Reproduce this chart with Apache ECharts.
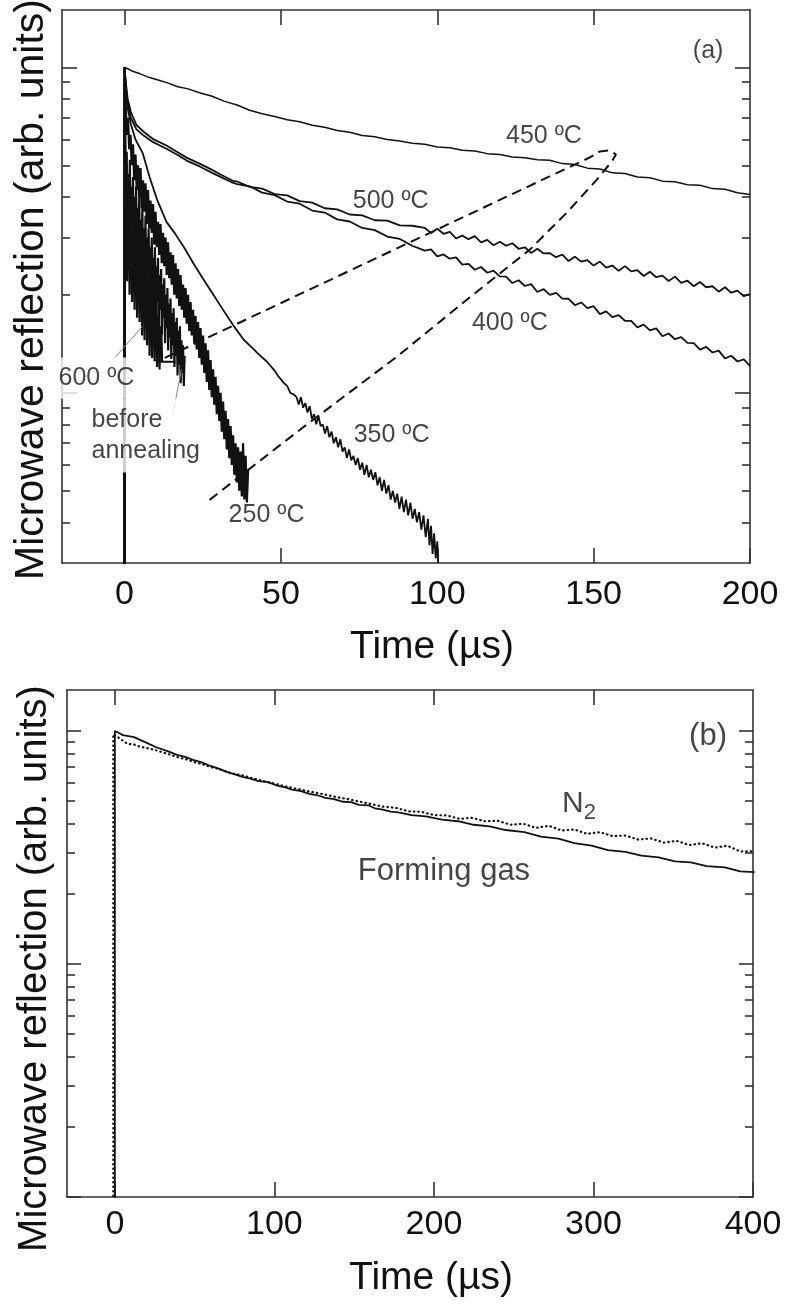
<!DOCTYPE html>
<html>
<head>
<meta charset="utf-8">
<script src="https://cdn.jsdelivr.net/npm/echarts@6/dist/echarts.min.js"></script>
<style>
  html, body { margin: 0; padding: 0; background: #fff; }
  #chart { width: 787px; height: 1309px; }
</style>
</head>
<body>
<div id="chart"></div>
<script>
// ---------- panel (a): decay curves after annealing at each temperature ----------
const t450 = [[0,0.01],[0,1.0],[1,0.99],[2.6,0.972],[5,0.955],[8,0.93],[11,0.912],[14,0.894],[17,0.872],[20,0.86],[24,0.835],[28,0.815],[32,0.786],[36,0.766],[40,0.738],[44,0.72],[48,0.706],[52,0.69],[56,0.68],[60,0.664],[64,0.654],[68,0.64],[72,0.632],[76,0.617],[80,0.612],[84,0.6],[88,0.594],[92,0.584],[96,0.58],[100,0.569],[104,0.566],[108,0.556],[112,0.553],[116,0.543],[120,0.54],[124,0.53],[128,0.527],[132,0.52],[136,0.518],[140,0.506],[144,0.503],[148,0.49],[152,0.487],[156,0.474],[160,0.472],[164,0.46],[168,0.458],[172,0.447],[176,0.445],[180,0.436],[184,0.434],[188,0.424],[192,0.422],[196,0.412],[200,0.407]];

const t500 = [[0,0.01],[0,1.0],[0.4,0.9],[1,0.8],[2,0.73],[3.8,0.665],[6,0.635],[9,0.603],[13.4,0.575],[17,0.548],[20,0.527],[24,0.506],[28,0.484],[31,0.467],[34.6,0.448],[36,0.446],[40,0.429],[44,0.424],[48,0.408],[52,0.404],[56,0.388],[60,0.384],[64,0.369],[68,0.366],[72,0.353],[76,0.351],[80,0.339],[84,0.338],[88,0.327],[92,0.326],[96,0.321],[98,0.31],[100,0.319],[102,0.308],[104,0.312],[106,0.298],[108,0.304],[110,0.2965],[112,0.303],[114,0.29],[116,0.295],[118,0.284],[120,0.291],[122,0.283],[124,0.288],[126,0.277],[128,0.28],[130,0.269],[132,0.277],[134,0.268],[136,0.2685],[138,0.261],[140,0.266],[142,0.254],[144,0.262],[146,0.253],[148,0.2555],[150,0.246],[152,0.253],[154,0.2425],[156,0.246],[158,0.237],[160,0.245],[162,0.236],[164,0.238],[166,0.2285],[168,0.2355],[170,0.2265],[172,0.229],[174,0.2205],[176,0.2275],[178,0.2175],[180,0.221],[182,0.2125],[184,0.219],[186,0.211],[188,0.2125],[190,0.2045],[192,0.211],[194,0.203],[196,0.206],[198,0.198],[200,0.201]];

const t400 = [[0,0.01],[0,1.0],[0.5,0.86],[1,0.77],[2,0.7],[3.8,0.645],[6,0.618],[9,0.59],[13.4,0.562],[17,0.538],[20,0.516],[24,0.496],[28,0.474],[31,0.459],[34.6,0.442],[36,0.438],[40,0.431],[44,0.412],[48,0.405],[52,0.387],[56,0.381],[60,0.363],[64,0.358],[68,0.341],[72,0.336],[76,0.321],[80,0.316],[84,0.302],[88,0.297],[92,0.283],[96,0.2735],[98,0.276],[100,0.2625],[102,0.2662],[104,0.2582],[106,0.2606],[108,0.2477],[110,0.2488],[112,0.2388],[114,0.2435],[116,0.2338],[118,0.2372],[120,0.2278],[122,0.2276],[124,0.2174],[126,0.2217],[128,0.2129],[130,0.2158],[132,0.2041],[134,0.2082],[136,0.1999],[138,0.2028],[140,0.1947],[142,0.1945],[144,0.1858],[146,0.1895],[148,0.182],[150,0.1845],[152,0.1745],[154,0.1779],[156,0.1709],[158,0.1733],[160,0.1665],[162,0.1664],[164,0.1589],[166,0.162],[168,0.1555],[170,0.1578],[172,0.1492],[174,0.1521],[176,0.1461],[178,0.1482],[180,0.1423],[182,0.1422],[184,0.1358],[186,0.1384],[188,0.133],[190,0.1348],[192,0.1276],[194,0.13],[196,0.1248],[198,0.1267],[200,0.121]];

const t350 = [[0,0.01],[0,1.0],[0.4,0.85],[1,0.75],[2,0.67],[3.5,0.6],[5.8,0.545],[8,0.46],[10.5,0.39],[13.4,0.335],[16,0.31],[19,0.28],[22,0.25],[25,0.225],[28,0.203],[31,0.183],[34.6,0.162],[38,0.146],[41,0.137],[43,0.131],[45.4,0.125],[47,0.12],[48,0.117],[49,0.113],[50,0.11],[51,0.107],[52,0.105],[53,0.1],[54,0.099],[55,0.097],[55.7,0.092],[56.4,0.097],[57.1,0.09],[57.8,0.093],[58.5,0.087],[59.2,0.091],[59.9,0.083],[60.6,0.086],[61.3,0.08],[62,0.085],[62.7,0.079],[63.4,0.08],[64.1,0.075],[64.8,0.079],[65.5,0.073],[66.2,0.076],[66.9,0.07],[67.6,0.073],[68.3,0.068],[69,0.072],[69.7,0.066],[70.4,0.068],[71.1,0.063],[71.8,0.067],[72.5,0.062],[73.2,0.064],[73.9,0.06],[74.6,0.063],[75.3,0.058],[76,0.061],[76.7,0.056],[77.4,0.06],[78.1,0.055],[78.8,0.058],[79.5,0.054],[80.2,0.057],[80.9,0.052],[81.6,0.055],[82.3,0.05],[83,0.054],[83.7,0.049],[84.4,0.052],[85.1,0.047],[85.8,0.05],[86.5,0.046],[87.2,0.049],[87.9,0.044],[88.6,0.048],[89.3,0.043],[90,0.047],[90.7,0.042],[91.4,0.046],[92.1,0.041],[92.8,0.044],[93.5,0.04],[94.2,0.043],[94.9,0.038],[95.6,0.042],[96.3,0.036],[97,0.041],[97.5,0.034],[98,0.039],[98.5,0.032],[99,0.037],[99.5,0.031],[100,0.035],[100.3,0.03]];

const t250 = [[0,0.01],[0,1.0],[0.3,0.8],[0.7,0.62],[1.1,0.7],[1.5,0.56],[1.9,0.62],[2.3,0.5],[2.7,0.58],[3.1,0.45],[3.5,0.54],[3.9,0.42],[4.3,0.5],[4.7,0.4],[5.1,0.49],[5.5,0.37],[5.9,0.45],[6.3,0.36],[6.7,0.44],[7.1,0.33],[7.5,0.42],[7.9,0.32],[8.3,0.39],[8.7,0.31],[9.1,0.38],[9.5,0.285],[9.9,0.36],[10.3,0.28],[10.7,0.335],[11.1,0.265],[11.5,0.33],[11.9,0.25],[12.3,0.31],[12.7,0.245],[13.1,0.3],[13.5,0.23],[13.9,0.29],[14.3,0.225],[14.7,0.27],[15.1,0.215],[15.5,0.265],[15.9,0.2],[16.3,0.25],[16.7,0.195],[17.1,0.24],[17.5,0.185],[17.9,0.23],[18.3,0.18],[18.7,0.215],[19.1,0.17],[19.5,0.21],[19.9,0.163],[20.3,0.2],[20.7,0.155],[21.1,0.19],[21.5,0.15],[21.9,0.18],[22.3,0.142],[22.7,0.172],[23.1,0.136],[23.5,0.165],[23.9,0.128],[24.3,0.158],[24.7,0.122],[25.1,0.15],[25.5,0.115],[25.9,0.142],[26.3,0.108],[26.7,0.135],[27.1,0.102],[27.5,0.126],[27.9,0.097],[28.3,0.118],[28.7,0.092],[29.1,0.112],[29.5,0.086],[29.9,0.105],[30.3,0.082],[30.7,0.1],[31.1,0.076],[31.5,0.094],[31.9,0.072],[32.3,0.088],[32.7,0.067],[33.1,0.083],[33.5,0.063],[33.9,0.079],[34.3,0.06],[34.7,0.074],[35.1,0.056],[35.5,0.07],[35.9,0.053],[36.3,0.068],[36.7,0.05],[37.1,0.066],[37.5,0.048],[37.9,0.07],[38.3,0.047],[38.7,0.064],[39.1,0.046],[39.5,0.058]];

const t600 = [[0,0.01],[0,0.7],[0.2,0.55],[0.4,0.26],[0.6,0.42],[0.8,0.22],[1,0.36],[1.2,0.25],[1.4,0.4],[1.6,0.2],[1.8,0.31],[2,0.23],[2.2,0.37],[2.4,0.19],[2.6,0.3],[2.8,0.24],[3,0.34],[3.2,0.18],[3.4,0.28],[3.6,0.21],[3.8,0.33],[4,0.17],[4.2,0.27],[4.4,0.22],[4.6,0.3],[4.8,0.165],[5,0.25],[5.2,0.19],[5.4,0.29],[5.6,0.15],[5.8,0.24],[6,0.2],[6.2,0.27],[6.4,0.145],[6.6,0.22],[6.8,0.17],[7,0.26],[7.2,0.14],[7.4,0.21],[7.6,0.175],[7.8,0.24],[8,0.13],[8.2,0.2],[8.4,0.16],[8.6,0.22],[8.8,0.128],[9,0.19],[9.2,0.15],[9.4,0.21],[9.6,0.125],[9.8,0.18],[10,0.14],[10.2,0.19],[10.4,0.12],[10.6,0.17],[10.8,0.135],[11,0.175],[11.2,0.118],[11.4,0.16],[11.6,0.13],[11.8,0.15],[12,0.125]];

const tBefore = [[0,0.01],[0,0.9],[0.2,0.7],[0.45,0.36],[0.7,0.55],[0.95,0.32],[1.2,0.47],[1.45,0.36],[1.7,0.52],[1.95,0.29],[2.2,0.43],[2.45,0.33],[2.7,0.46],[2.95,0.27],[3.2,0.4],[3.45,0.3],[3.7,0.43],[3.95,0.25],[4.2,0.37],[4.45,0.29],[4.7,0.4],[4.95,0.235],[5.2,0.34],[5.45,0.27],[5.7,0.37],[5.95,0.22],[6.2,0.32],[6.45,0.25],[6.7,0.35],[6.95,0.205],[7.2,0.3],[7.45,0.235],[7.7,0.32],[7.95,0.195],[8.2,0.28],[8.45,0.22],[8.7,0.3],[8.95,0.18],[9.2,0.26],[9.45,0.205],[9.7,0.28],[9.95,0.17],[10.2,0.245],[10.45,0.19],[10.7,0.26],[10.95,0.16],[11.2,0.23],[11.45,0.18],[11.7,0.24],[11.95,0.15],[12.2,0.215],[12.45,0.17],[12.7,0.225],[12.95,0.142],[13.2,0.2],[13.45,0.158],[13.7,0.21],[13.95,0.135],[14.2,0.188],[14.45,0.148],[14.7,0.195],[14.95,0.127],[15.2,0.176],[15.45,0.14],[15.7,0.182],[15.95,0.12],[16.2,0.165],[16.45,0.13],[16.7,0.17],[16.95,0.113],[17.2,0.155],[17.45,0.122],[17.7,0.16],[17.95,0.107],[18.2,0.145],[18.45,0.115],[18.7,0.14],[18.95,0.105],[19.2,0.13]];

// dashed hairpin arrow and leader lines of panel (a), in data units
const loopA = [[27.2,0.0469],[56,0.0769],[87.04,0.129],[109.44,0.1932],[129.6,0.2754],[141.44,0.358],[151.04,0.452],[155.84,0.514],[157.12,0.54],[155.2,0.5555],[152,0.5516],[148.8,0.5286],[10.24,0.1246]];
const arrowA = [[10.56,0.1395],[10.24,0.1246],[16.32,0.1246]];
const lead600 = [[-3.2,0.128],[5.76,0.16]];
const leadBefore = [[15.4,0.0855],[18.2,0.118]];

// text notes: [text, x, y]
const notesA = [['(a)',186.6,1.12],['450 ºC',134.1,0.613],['500 ºC',85.1,0.387],['400 ºC',123.2,0.164],['350 ºC',85.4,0.0739],['250 ºC',45.4,0.0422]];
const notesAboxed = [['600 ºC',-9,0.111]];
const notesAleft = [['before\nannealing',-11.2,0.0739]];

// ---------- panel (b): N2 vs forming gas ----------
const tForming = [[0,0.001],[0,1.0],[2,0.985],[5,0.96],[12,0.942],[20,0.89],[26,0.852],[33,0.82],[39,0.79],[44,0.775],[49,0.752],[54,0.736],[60,0.708],[65,0.69],[70,0.668],[74.7,0.653],[80,0.636],[85,0.625],[90,0.61],[96,0.603],[101,0.585],[106,0.575],[111,0.56],[116.8,0.552],[122,0.537],[127,0.53],[132,0.516],[137.5,0.51],[143,0.497],[148,0.495],[153,0.482],[158.8,0.48],[163,0.466],[168,0.46],[173,0.451],[177.6,0.448],[186,0.436],[195,0.43],[205,0.417],[215,0.41],[225,0.396],[235,0.39],[245,0.376],[256.7,0.368],[267,0.352],[278,0.345],[288,0.33],[298.8,0.322],[309,0.308],[320,0.303],[330,0.292],[340.9,0.287],[351,0.276],[361,0.273],[371,0.263],[382.3,0.26],[392,0.25],[401,0.248]];

const tN2 = [[-1,0.001],[-1,0.97],[1,0.95],[4,0.92],[8,0.88],[12,0.875],[15,0.86],[20,0.845],[25,0.83],[30,0.81],[35,0.79],[40,0.77],[45,0.755],[50,0.735],[55,0.72],[60,0.7],[65,0.688],[70,0.67],[75,0.655],[80,0.645],[85,0.63],[90,0.618],[95,0.605],[100,0.595],[107,0.578],[115,0.563],[122,0.55],[130,0.537],[138,0.522],[145,0.512],[152,0.5],[160,0.487],[168,0.474],[176,0.468],[184,0.452],[192,0.45],[200,0.436],[208,0.434],[216,0.42],[224,0.424],[232,0.41],[240,0.412],[248,0.396],[256,0.4],[264,0.384],[272,0.392],[280,0.374],[288,0.378],[296,0.362],[304,0.368],[312,0.354],[320,0.356],[328,0.342],[336,0.346],[344,0.332],[352,0.338],[360,0.324],[368,0.33],[376,0.316],[384,0.322],[392,0.304],[401,0.305]];

const notesB = [['(b)',371.8,0.952],['Forming gas',206.3,0.25]];
const notesBsub = [['N',290.9,0.486]];

// ---------- axis ticks ----------
const xTicksA = [0, 50, 100, 150, 200];
const xTopA = [0, 50, 100, 150];
const xTicksB = [0, 100, 200, 300, 400];
const xTopB = [0, 100, 200, 300];
const yMajorA = [0.1, 1];
const yMinorA = [0.04, 0.05, 0.06, 0.07, 0.08, 0.09, 0.2, 0.3, 0.4, 0.5, 0.6, 0.7, 0.8, 0.9];
const yMajorB = [0.01, 0.1, 1];
const yMinorB = [0.02, 0.03, 0.04, 0.05, 0.06, 0.07, 0.08, 0.09, 0.2, 0.3, 0.4, 0.5, 0.6, 0.7, 0.8, 0.9];

const FONT = 'Liberation Sans';
const INK = '#111';
const AXIS = { color: '#333', width: 1.6 };

function xAx(grid, min, max, pos, ticks, labels, name, nameGap, namePad, margin) {
  return {
    type: 'value', gridIndex: grid, min: min, max: max, position: pos,
    axisLine: { show: true, onZero: false, lineStyle: AXIS },
    axisTick: { show: true, inside: true, length: 15, customValues: ticks, lineStyle: AXIS },
    axisLabel: labels ? { show: true, customValues: labels, margin: margin, color: INK, fontFamily: FONT, fontSize: 34 } : { show: false },
    splitLine: { show: false },
    name: name || '', nameLocation: 'middle', nameGap: nameGap || 0,
    nameTextStyle: { color: INK, fontFamily: FONT, fontSize: 39, lineHeight: 39, padding: namePad || 0 }
  };
}
function yAx(grid, min, max, pos, ticks, len, showLine, name, nameGap, namePad, nameSize) {
  return {
    type: 'log', logBase: 10, gridIndex: grid, min: min, max: max, position: pos,
    axisLine: { show: showLine, onZero: false, lineStyle: AXIS },
    axisTick: { show: true, inside: true, length: len, customValues: ticks, lineStyle: AXIS },
    axisLabel: { show: false },
    splitLine: { show: false }, minorTick: { show: false },
    name: name || '', nameLocation: 'middle', nameGap: nameGap || 0,
    nameTextStyle: { color: INK, fontFamily: FONT, fontSize: nameSize || 40, lineHeight: 40, padding: namePad || 0 }
  };
}

const YNAME = 'Microwave reflection (arb. units)';

function trace(data, b, style) {
  return {
    type: 'line', xAxisIndex: b ? 2 : 0, yAxisIndex: b ? 4 : 0, data: data,
    showSymbol: false, symbol: 'none', animation: false, silent: true, z: 3,
    lineStyle: Object.assign({ color: INK, width: 1.4 }, style)
  };
}
function notes(list, b, lab) {
  return {
    type: 'scatter', xAxisIndex: b ? 2 : 0, yAxisIndex: b ? 4 : 0, symbolSize: 0,
    silent: true, animation: false, z: 10,
    data: list.map(n => ({
      value: [n[1], n[2]],
      label: Object.assign({ show: true, position: 'inside', formatter: n[0], color: '#151515', fontFamily: FONT, fontSize: 25 }, lab)
    }))
  };
}

const option = {
  animation: false,
  backgroundColor: '#fff',
  grid: [
    { left: 62, top: 10, width: 688, height: 553, outerBoundsMode: 'none', containLabel: false },
    { left: 67, top: 690, width: 686, height: 507, outerBoundsMode: 'none', containLabel: false }
  ],
  xAxis: [
    xAx(0, -20, 200, 'bottom', xTicksA, xTicksA, 'Time (µs)', 65, [0, 0, 0, 52], 15),
    xAx(0, -20, 200, 'top', xTopA, null),
    xAx(1, -30, 400, 'bottom', xTicksB, xTicksB, 'Time (µs)', 62, [0, 0, 0, 42], 11),
    xAx(1, -30, 400, 'top', xTopB, null)
  ],
  yAxis: [
    yAx(0, 0.03, 1.5, 'left', yMajorA, 15, true, YNAME, 10, [0, 6, 0, 0], 41),
    yAx(0, 0.03, 1.5, 'left', yMinorA, 8, false),
    yAx(0, 0.03, 1.5, 'right', yMajorA, 15, true),
    yAx(0, 0.03, 1.5, 'right', yMinorA, 8, false),
    yAx(1, 0.01, 1.5, 'left', yMajorB, 14, true, YNAME, 12, [0, 50, 0, 0], 40),
    yAx(1, 0.01, 1.5, 'left', yMinorB, 8, false),
    yAx(1, 0.01, 1.5, 'right', yMajorB, 14, true),
    yAx(1, 0.01, 1.5, 'right', yMinorB, 8, false)
  ],
  series: [
    trace(t450, false, { width: 1.5 }),
    trace(t500, false, { width: 1.8 }),
    trace(t400, false, { width: 1.8 }),
    trace(t350, false, { width: 1.8 }),
    trace(t250, false, { width: 2.3 }),
    trace(tBefore, false, { width: 2.2 }),
    trace(t600, false, { width: 2.2 }),
    trace(loopA, false, { width: 2, type: [10, 6] }),
    trace(arrowA, false, { width: 2 }),
    trace(lead600, false, { width: 1, color: '#888' }),
    trace(leadBefore, false, { width: 1, color: '#888' }),
    notes(notesA, false),
    notes(notesAboxed, false, { backgroundColor: '#fff', padding: [8, 3, 8, 3] }),
    notes(notesAleft, false, { align: 'left', lineHeight: 31, backgroundColor: '#fff', padding: [6, 2, 6, 2] }),
    trace(tForming, true, { width: 1.8 }),
    trace(tN2, true, { width: 2.2, type: [0.5, 4], cap: 'round' }),
    notes(notesB, true, { fontSize: 31 }),
    notes(notesBsub, true, {
      formatter: '{n|N}{s|2}',
      rich: {
        n: { fontSize: 30, lineHeight: 40, verticalAlign: 'middle', color: '#151515', fontFamily: FONT },
        s: { fontSize: 22, verticalAlign: 'bottom', color: '#151515', fontFamily: FONT }
      }
    })
  ]
};

const chart = echarts.init(document.getElementById('chart'));
chart.setOption(option);
</script>
</body>
</html>
